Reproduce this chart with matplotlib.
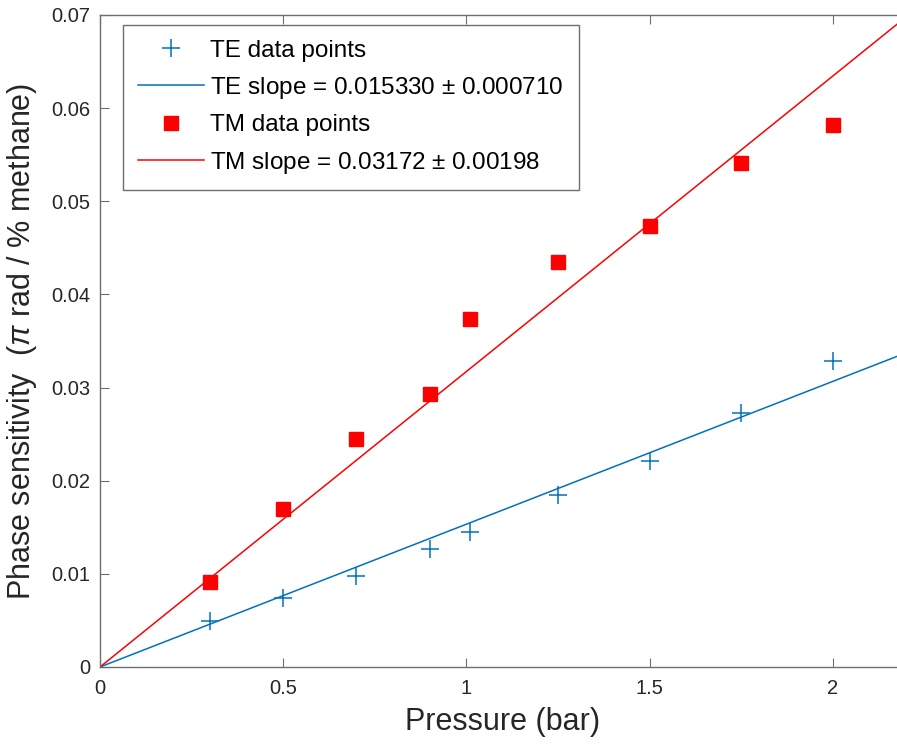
import matplotlib
matplotlib.use('Agg')
import matplotlib.pyplot as plt
import numpy as np

# ─── Data ────────────────────────────────────────────────────────────────────
pressure = [0.3, 0.5, 0.7, 0.9, 1.01, 1.25, 1.5, 1.75, 2.0]
te_phase = [0.0049, 0.0074, 0.0098, 0.0127, 0.0145, 0.0185, 0.0221, 0.0273, 0.0328]
tm_phase = [0.0091, 0.0170, 0.0245, 0.0293, 0.0374, 0.0435, 0.0474, 0.0541, 0.0582]
te_slope = 0.015330
tm_slope = 0.03172
fit_x = [0.0, 2.2]

TE_COLOR = '#0072BD'
TM_COLOR = '#FF0000'
AX_COLOR = '#6e6e6e'
TXT_COLOR = '#262626'

plt.rcParams['font.family'] = ['Liberation Sans', 'DejaVu Sans']
plt.rcParams['mathtext.fontset'] = 'custom'
plt.rcParams['mathtext.it'] = 'Liberation Sans:italic'
plt.rcParams['mathtext.rm'] = 'Liberation Sans'

fig = plt.figure(figsize=(8.97, 7.47), dpi=100, facecolor='white')
# right spine sits just past the picture's edge, like the cropped original
ax = fig.add_axes([100 / 897, 80 / 747, 806 / 897, 652 / 747])

ax.plot(pressure, te_phase, linestyle='none', marker='+', color=TE_COLOR,
        markersize=13.5, markeredgewidth=1.1, label='TE data points')
ax.plot(fit_x, [te_slope * x for x in fit_x], color=TE_COLOR, linewidth=1.1,
        label='TE slope = 0.015330 $\\pm$ 0.000710')
ax.plot(pressure, tm_phase, linestyle='none', marker='s', color=TM_COLOR,
        markersize=10.5, label='TM data points')
ax.plot(fit_x, [tm_slope * x for x in fit_x], color=TM_COLOR, linewidth=1.1,
        label='TM slope = 0.03172 $\\pm$ 0.00198')

ax.set_xlim(0, 2.2)
ax.set_ylim(0, 0.07)
ax.set_xticks([0, 0.5, 1, 1.5, 2])
ax.set_xticklabels(['0', '0.5', '1', '1.5', '2'])
ax.set_yticks(np.arange(0, 0.0701, 0.01))
ax.set_yticklabels(['0', '0.01', '0.02', '0.03', '0.04', '0.05', '0.06', '0.07'])

ax.tick_params(direction='in', length=6.5, width=0.8, top=True, right=True,
               colors=AX_COLOR, labelcolor=TXT_COLOR, labelsize=14.5)
ax.tick_params(axis='x', pad=9)
ax.tick_params(axis='y', pad=7)
for spine in ax.spines.values():
    spine.set_color(AX_COLOR)
    spine.set_linewidth(1.0)

ax.set_xlabel('Pressure (bar)', fontsize=22, color=TXT_COLOR, labelpad=6)
ax.set_ylabel('Phase sensitivity  ($\\pi$ rad / % methane)', fontsize=22,
              color=TXT_COLOR)
ax.yaxis.set_label_coords(-0.076, 0.5)

leg = ax.legend(loc='upper left', bbox_to_anchor=(123 / 897, 1 - 25 / 747),
                bbox_transform=fig.transFigure, borderaxespad=0,
                fontsize=17.5, fancybox=False, framealpha=1,
                edgecolor=AX_COLOR, handlelength=2.75, handletextpad=0.25,
                labelspacing=0.55, borderpad=0.6)
leg.get_frame().set_linewidth(1.0)
for t in leg.get_texts():
    t.set_color('black')

fig.savefig('out.png', dpi=100, facecolor='white')
